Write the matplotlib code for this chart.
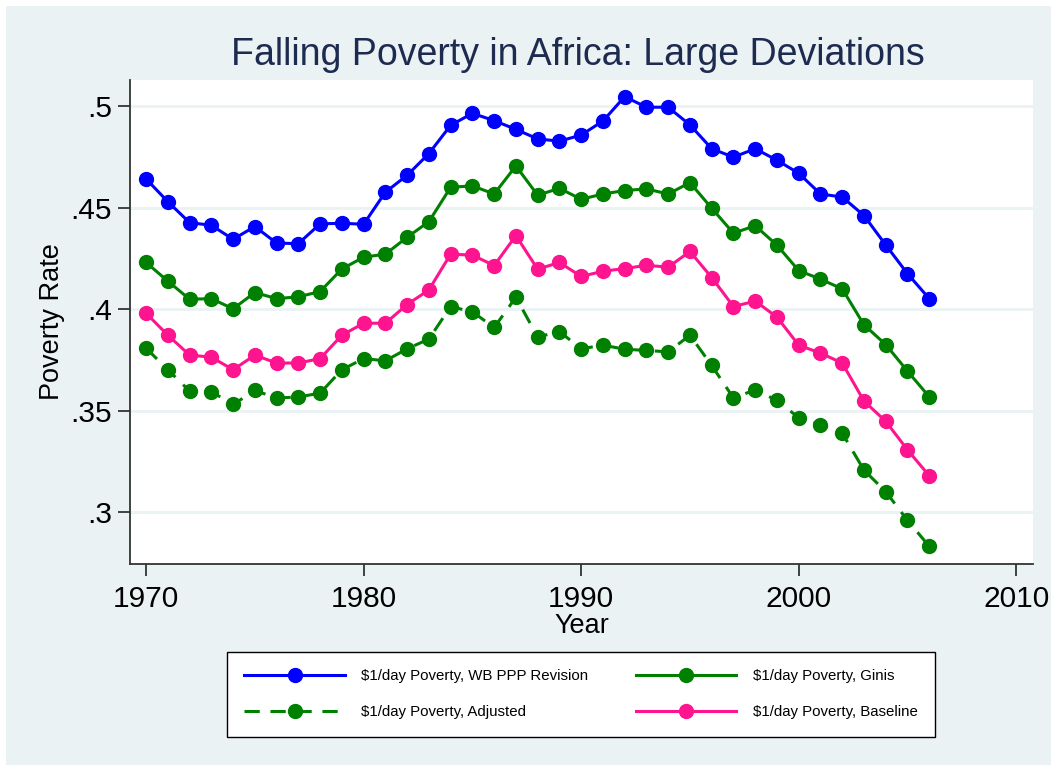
import matplotlib
matplotlib.use("Agg")
import matplotlib.pyplot as plt
from matplotlib.patches import Rectangle

#Data
Years = list(range(1970, 2007))

WB_PPP = [0.4641, 0.4529, 0.4426, 0.4413, 0.4344, 0.4407, 0.4325, 0.4323, 0.4420, 0.4423,
          0.4418, 0.4576, 0.4659, 0.4766, 0.4905, 0.4964, 0.4928, 0.4885, 0.4838, 0.4827,
          0.4857, 0.4926, 0.5046, 0.4994, 0.4994, 0.4907, 0.4790, 0.4748, 0.4790, 0.4733,
          0.4669, 0.4567, 0.4552, 0.4461, 0.4316, 0.4175, 0.4052]

Ginis = [0.4230, 0.4138, 0.4049, 0.4052, 0.4002, 0.4082, 0.4052, 0.4061, 0.4087, 0.4198,
         0.4256, 0.4271, 0.4354, 0.4431, 0.4600, 0.4607, 0.4567, 0.4705, 0.4561, 0.4595,
         0.4541, 0.4567, 0.4584, 0.4592, 0.4567, 0.4623, 0.4497, 0.4374, 0.4411, 0.4315,
         0.4190, 0.4148, 0.4100, 0.3923, 0.3826, 0.3695, 0.3569]

Adjusted = [0.3808, 0.3702, 0.3597, 0.3594, 0.3531, 0.3600, 0.3563, 0.3568, 0.3587, 0.3702,
            0.3757, 0.3746, 0.3805, 0.3853, 0.4013, 0.3987, 0.3910, 0.4059, 0.3863, 0.3890,
            0.3805, 0.3823, 0.3803, 0.3797, 0.3790, 0.3872, 0.3723, 0.3563, 0.3603, 0.3551,
            0.3466, 0.3430, 0.3390, 0.3208, 0.3102, 0.2961, 0.2833]

Baseline = [0.3980, 0.3872, 0.3774, 0.3764, 0.3702, 0.3774, 0.3735, 0.3735, 0.3757, 0.3872,
            0.3931, 0.3931, 0.4023, 0.4095, 0.4271, 0.4266, 0.4215, 0.4362, 0.4197, 0.4230,
            0.4161, 0.4187, 0.4200, 0.4216, 0.4207, 0.4284, 0.4156, 0.4013, 0.4040, 0.3961,
            0.3823, 0.3784, 0.3735, 0.3548, 0.3448, 0.3308, 0.3180]

Labels = ["$1/day Poverty, WB PPP Revision", "$1/day Poverty, Ginis",
          "$1/day Poverty, Adjusted", "$1/day Poverty, Baseline"]

X_Ticks = [1970, 1980, 1990, 2000, 2010]
Y_Ticks = [0.3, 0.35, 0.4, 0.45, 0.5]
Y_Tick_Labels = [".3", ".35", ".4", ".45", ".5"]

Title = "Falling Poverty in Africa: Large Deviations"

#Colours
Back = "#EAF2F3"
Navy = "#1E2B50"

plt.rcParams['font.family'] = ['Liberation Sans', 'DejaVu Sans']
plt.rcParams['text.usetex'] = False

fig = plt.figure(figsize=(10.57, 7.71), dpi=100)
fig.patch.set_facecolor("white")
#Stata style light background with white edge
fig.patches.append(Rectangle((6 / 1057, 6 / 771), 1 - 12 / 1057, 1 - 12 / 771,
                             transform=fig.transFigure, facecolor=Back,
                             edgecolor="none", zorder=-10))

ax = fig.add_axes([130 / 1057, 1 - 564 / 771, (1033 - 130) / 1057, (564 - 80) / 771])
ax.set_facecolor("white")

mk = dict(marker="o", markersize=10, linewidth=2.2)
l1, = ax.plot(Years, WB_PPP, color="#0000FF", **mk)
l3, = ax.plot(Years, Adjusted, color="#008000", linestyle=(0, (5, 3.5)), **mk)
l2, = ax.plot(Years, Ginis, color="#008000", **mk)
l4, = ax.plot(Years, Baseline, color="#FF1490", **mk)

ax.set_xlim(1969.26, 2010.77)
ax.set_ylim(0.2746, 0.5128)

ax.set_xticks(X_Ticks)
ax.set_yticks(Y_Ticks)
ax.set_yticklabels(Y_Tick_Labels)
ax.tick_params(axis="both", labelsize=21.5, length=8.3, width=1.3, color="#333333")
ax.tick_params(axis="x", pad=6.5)
ax.tick_params(axis="y", pad=4.5)
ax.grid(axis="y", color=Back, linewidth=2)
ax.set_axisbelow(True)

for s in ["top", "right"]:
    ax.spines[s].set_visible(False)
for s in ["left", "bottom"]:
    ax.spines[s].set_color("#333333")
    ax.spines[s].set_linewidth(1.3)

ax.set_xlabel("Year", fontsize=19.5, labelpad=0)
ax.set_ylabel("Poverty Rate", fontsize=19.5, labelpad=4)

fig.text(0.547, 1 - 55 / 771, Title, fontsize=27, color=Navy,
         ha="center", va="center")

#Legend, two columns, filled by column
leg = ax.legend([l1, l3, l2, l4], [Labels[0], Labels[2], Labels[1], Labels[3]],
                ncol=2, mode="expand", loc="center",
                bbox_to_anchor=(227 / 1057, (771 - 737) / 771, 708 / 1057, 86 / 771),
                bbox_transform=fig.transFigure, borderaxespad=0,
                prop={"size": 10.8},
                handlelength=6.7, handletextpad=1.1, borderpad=1.15, labelspacing=1.5,
                fancybox=False, framealpha=1, edgecolor="black", facecolor="white")
leg.get_frame().set_linewidth(1.0)

plt.savefig("out.png", dpi=100, facecolor=fig.get_facecolor())
